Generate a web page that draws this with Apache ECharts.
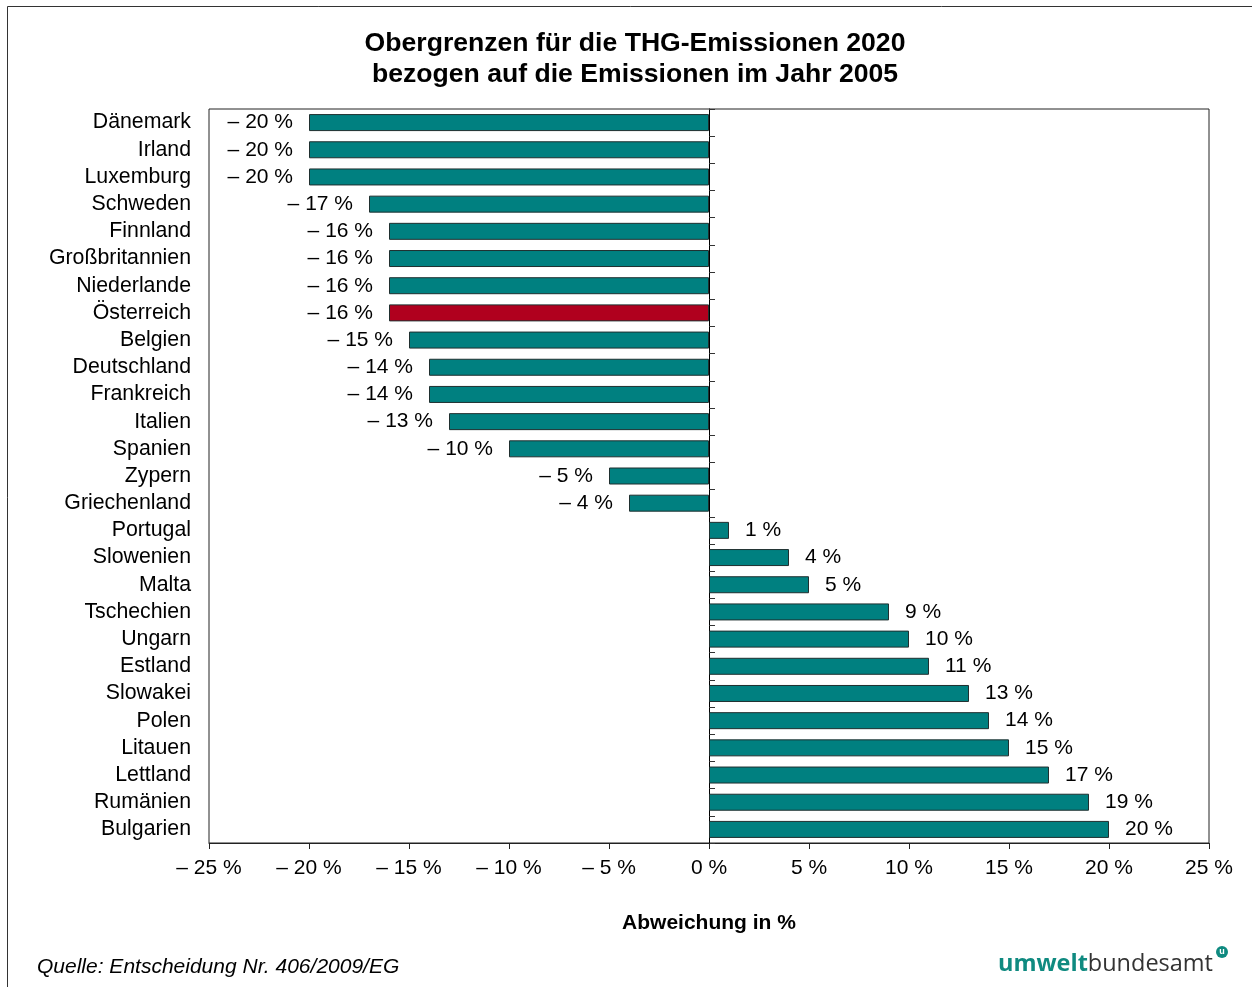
<!DOCTYPE html>
<html>
<head>
<meta charset="utf-8">
<script src="https://cdn.jsdelivr.net/npm/echarts@6/dist/echarts.min.js"></script>
<style>
  html, body { margin: 0; padding: 0; background: #fff; }
  #chart { width: 1252px; height: 987px; }
</style>
</head>
<body>
<div id="chart"></div>
<script>
const countries = ['Dänemark', 'Irland', 'Luxemburg', 'Schweden', 'Finnland', 'Großbritannien', 'Niederlande',
  'Österreich', 'Belgien', 'Deutschland', 'Frankreich', 'Italien', 'Spanien', 'Zypern', 'Griechenland',
  'Portugal', 'Slowenien', 'Malta', 'Tschechien', 'Ungarn', 'Estland', 'Slowakei', 'Polen', 'Litauen',
  'Lettland', 'Rumänien', 'Bulgarien']
const limits = [-20, -20, -20, -17, -16, -16, -16, -16, -15, -14, -14, -13, -10, -5, -4,
  1, 4, 5, 9, 10, 11, 13, 14, 15, 17, 19, 20]
const highlight = 'Österreich'

const TEAL = '#008080'
const RED = '#b0001e'
const FONT = '"Liberation Sans", Arial, sans-serif'

const fmt = v => (v < 0 ? '– ' + Math.abs(v) : v) + ' %'

const chart = echarts.init(document.getElementById('chart'))

const barData = limits.map((v, i) => ({
  value: v,
  itemStyle: { color: countries[i] === highlight ? RED : TEAL },
  label: { position: v < 0 ? 'left' : 'right' }
}))

chart.setOption({
  backgroundColor: '#fff',
  animation: false,
  title: {
    text: 'Obergrenzen für die THG-Emissionen 2020\nbezogen auf die Emissionen im Jahr 2005',
    left: 630,
    textAlign: 'center',
    top: 23,
    textStyle: { fontFamily: FONT, fontSize: 26.6, fontWeight: 'bold', color: '#000', lineHeight: 31 }
  },
  grid: {
    left: 209, right: 43, top: 109, bottom: 144,
    show: true, borderColor: '#222', borderWidth: 1
  },
  xAxis: {
    type: 'value',
    min: -25, max: 25, interval: 5,
    name: 'Abweichung in %',
    nameLocation: 'middle',
    nameGap: 70,
    nameTextStyle: { fontFamily: FONT, fontSize: 21, fontWeight: 'bold', color: '#000' },
    axisLine: { show: true, onZero: false, lineStyle: { color: '#222', width: 1 } },
    axisTick: { show: true, length: 6, lineStyle: { color: '#222' } },
    axisLabel: { formatter: fmt, fontFamily: FONT, fontSize: 21, color: '#000', margin: 15 },
    splitLine: { show: false }
  },
  yAxis: [
    {
      type: 'category',
      data: countries,
      inverse: true,
      axisLine: { show: false, onZero: false },
      axisTick: { show: false },
      axisLabel: { interval: 0, fontFamily: FONT, fontSize: 21.3, color: '#000', margin: 18 }
    },
    {
      type: 'category',
      data: countries,
      inverse: true,
      position: 'right',
      axisLine: { show: true, onZero: true, lineStyle: { color: '#000', width: 1 } },
      axisTick: { show: true, length: 6, lineStyle: { color: '#333' } },
      axisLabel: { show: false }
    }
  ],
  series: [{
    type: 'bar',
    yAxisIndex: 0,
    data: barData,
    barWidth: 17,
    itemStyle: { borderColor: '#1f2f2f', borderWidth: 1 },
    label: {
      show: true,
      distance: 16,
      formatter: p => fmt(p.value),
      fontFamily: FONT, fontSize: 21, color: '#000'
    }
  }],
  graphic: [
    {
      type: 'rect',
      shape: { x: 7.5, y: 6.5, width: 1300, height: 1100 },
      style: { fill: 'none', stroke: '#333', lineWidth: 1 },
      silent: true
    },
    {
      type: 'text',
      left: 37, top: 957,
      style: {
        text: 'Quelle: Entscheidung Nr. 406/2009/EG',
        font: 'italic 21px "Liberation Sans", Arial, sans-serif',
        fill: '#000'
      }
    },
    {
      type: 'text',
      x: 1213, y: 976,
      style: {
        text: '{a|umwelt}{b|bundesamt}',
        align: 'right',
        verticalAlign: 'bottom',
        rich: {
          a: { fontFamily: '"Open Sans", sans-serif', fontSize: 23.5, fontWeight: 'bold', fill: '#0f8a80' },
          b: { fontFamily: '"Open Sans", sans-serif', fontSize: 23.5, fill: '#333' }
        }
      }
    },
    {
      type: 'circle',
      shape: { cx: 1222, cy: 952, r: 6 },
      style: { fill: '#0f8a80' }
    },
    {
      type: 'text',
      x: 1222, y: 952,
      style: { text: 'u', align: 'center', verticalAlign: 'middle', font: 'bold 9px sans-serif', fill: '#fff' }
    }
  ]
})
</script>
</body>
</html>
